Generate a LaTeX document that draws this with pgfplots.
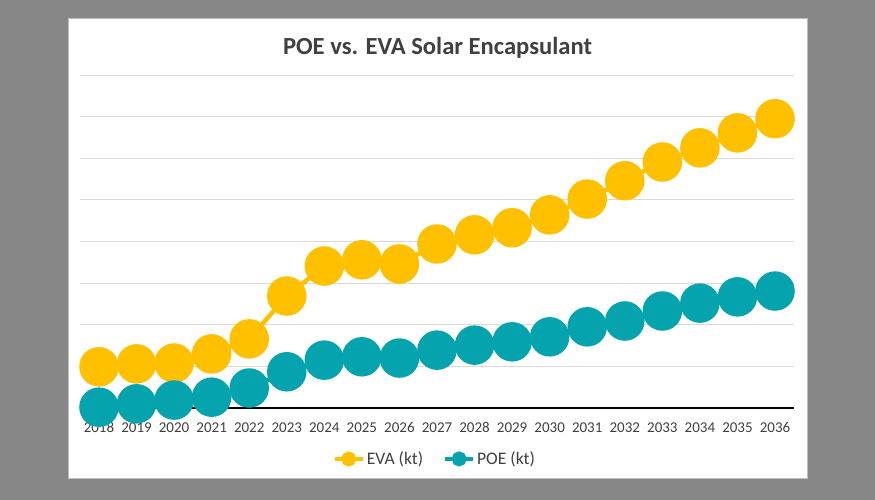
\documentclass[border=0pt]{standalone}
\usepackage{pgfplots}
\pgfplotsset{compat=1.18}
\usepackage{fontspec}
\setmainfont{Carlito}
\definecolor{bggray}{HTML}{878787}
\definecolor{evacol}{HTML}{FFC000}
\definecolor{poecol}{HTML}{04A3AE}
\definecolor{txtcol}{HTML}{404040}
\definecolor{gridcol}{HTML}{D9D9D9}

% tick labels above the markers, grid below
\pgfplotsset{
  layers/labelsontop/.define layer set={
    axis background,axis grid,axis ticks,axis lines,main,axis tick labels,axis descriptions,axis foreground
  }{},
}

\pgfplotstableread{
x eva poe
0  0.99 0.02
1  1.06 0.10
2  1.08 0.19
3  1.30 0.26
4  1.66 0.48
5  2.69 0.87
6  3.41 1.15
7  3.56 1.23
8  3.46 1.20
9  3.94 1.39
10 4.16 1.51
11 4.33 1.59
12 4.64 1.71
13 5.02 1.95
14 5.46 2.09
15 5.91 2.33
16 6.25 2.52
17 6.61 2.67
18 6.95 2.81
}\datatable

\begin{document}
\begin{tikzpicture}
% background and chart panel
\fill[bggray] (0bp,0bp) rectangle (875bp,500bp);
\fill[white] (68bp,21bp) rectangle (807bp,481bp);
\draw[gray!50, line width=1bp] (68bp,21bp) rectangle (807bp,481bp);
\node[font=\fontsize{24.6bp}{28bp}\selectfont\bfseries, text=txtcol] at (437.5bp,452.5bp) {POE vs. EVA Solar Encapsulant};

\begin{axis}[
  set layers=labelsontop,
  at={(80.2bp,92bp)}, anchor=south west,
  scale only axis,
  width=713.6bp, height=333bp,
  xmin=-0.5, xmax=18.5,
  ymin=0, ymax=8,
  clip=false,
  axis line style={draw=none},
  xtick={0,...,18},
  xticklabels={2018,2019,2020,2021,2022,2023,2024,2025,2026,2027,2028,2029,2030,2031,2032,2033,2034,2035,2036},
  ytick={1,...,8},
  yticklabels={},
  major tick length=0pt,
  ymajorgrids,
  grid style={gridcol, line width=1bp},
  extra y ticks={0},
  extra y tick labels={},
  extra y tick style={grid style={black, line width=1.3bp}},
  tick label style={font=\fontsize{15bp}{17bp}\selectfont, text=txtcol},
  /pgf/number format/assume math mode=true,
  xticklabel style={anchor=base, yshift=-24.7bp},
  legend style={at={(0.497,-0.153)}, anchor=center, draw=none, fill=none,
    font=\fontsize{17.6bp}{19bp}\selectfont, text=txtcol,
    legend columns=2, /tikz/every even column/.append style={column sep=18bp}},
  legend image code/.code={\draw[mark repeat=2,mark phase=2,#1,line width=4bp,mark size=5.5bp]
    plot coordinates {(0bp,0bp)(14bp,0bp)(28bp,0bp)};},
]
\addplot[evacol, line width=4.5bp, mark=*, mark size=17.5bp, mark options={draw=none, fill=evacol}]
  table[x=x, y=eva] {\datatable};
\addlegendentry{EVA (kt)}
\addplot[poecol, line width=4.5bp, mark=*, mark size=17.5bp, mark options={draw=none, fill=poecol}]
  table[x=x, y=poe] {\datatable};
\addlegendentry{POE (kt)}
\end{axis}
\end{tikzpicture}
\end{document}
